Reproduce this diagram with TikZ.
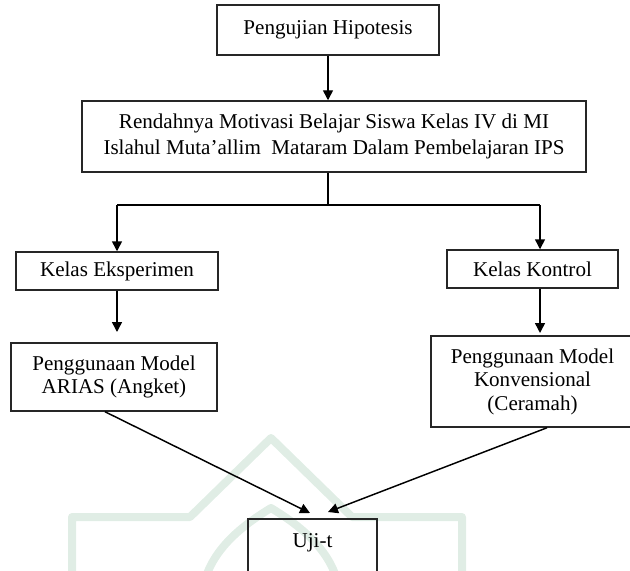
\documentclass[tikz,border=0pt]{standalone}
\usepackage{fontspec}
\setmainfont{Liberation Serif}
\usetikzlibrary{arrows.meta}
\definecolor{wm}{RGB}{224,237,229}
\begin{document}
\begin{tikzpicture}[x=0.75pt,y=-0.75pt,
  box/.style={draw=black!85, line width=1.1pt, inner sep=0pt, align=center, font=\fontsize{15.8}{17.6}\selectfont},
  txt/.style={inner sep=0pt, font=\fontsize{15.8}{17.6}\selectfont},
  arr/.style={line width=1.1pt, -{Triangle[width=7.5pt,length=7.5pt]}},
  ln/.style={line width=1.1pt},
  wmline/.style={draw=wm, line width=6pt, line join=round}]
\useasboundingbox (0,0) rectangle (630,570);
\clip (0,0) rectangle (630,570);
% faint watermark
\draw[wmline] (72,580) -- (72,517) -- (190,517) -- (271,438) -- (352,517) -- (462,517) -- (462,580);
\draw[wmline] (205,580) .. controls (215,545) and (248,522) .. (271,508) .. controls (294,522) and (327,545) .. (337,580);
% boxes
\node[box, minimum width=166.5pt, minimum height=37.5pt] (b1) at (328,30) {Pengujian Hipotesis};
\node[box, minimum width=378pt, minimum height=53.25pt, font=\fontsize{15.8}{19.5}\selectfont] (b2) at (334,136.5)
  {Rendahnya Motivasi Belajar Siswa Kelas IV di MI\\Islahul Muta’allim\ \ Mataram Dalam Pembelajaran IPS};
\node[box, minimum width=151.5pt, minimum height=28.5pt] (ke) at (117,271) {Kelas Eksperimen};
\node[box, minimum width=128.25pt, minimum height=28.5pt] (kk) at (532.5,269) {Kelas Kontrol};
\node[box, minimum width=154.5pt, minimum height=51pt] (arias) at (114,377) {};
\node[txt, anchor=base] (ariasA) at (114,370) {Penggunaan Model};
\node[txt, anchor=base] (ariasB) at (114,393) {ARIAS (Angket)};
\node[box, minimum width=152.25pt, minimum height=68.25pt] (konv) at (532.5,381.5)
  {Penggunaan Model\\Konvensional\\(Ceramah)};
\node[box, minimum width=96.75pt, minimum height=60.75pt] (uji) at (312.5,559.5) {};
\node[txt, anchor=base] (ujit) at (312.5,547) {Uji-t};
% connectors
\draw[arr] (b1.south) -- (b1.south |- b2.north);
\coordinate (split) at (328,205);
\coordinate (sl) at (117,205);
\coordinate (sr) at (540,205);
\draw[ln] (b2.south -| b1.south) -- (split);
\draw[ln] (sl) -- (sr);
\draw[arr] (sl) -- (ke.north);
\draw[arr] (sr) -- (sr |- kk.north);
\coordinate (tkl) at (117,332);
\coordinate (tkr) at (540,333);
\draw[arr] (ke.south) -- (tkl);
\draw[arr] (kk.south -| sr) -- (tkr);
\coordinate (tipL) at (310,513);
\coordinate (tipR) at (328,512);
\draw[arr] ([xshift=-6.75pt]arias.south) -- (tipL);
\draw[arr] ([xshift=10.9pt]konv.south) -- (tipR);
\end{tikzpicture}
\end{document}
